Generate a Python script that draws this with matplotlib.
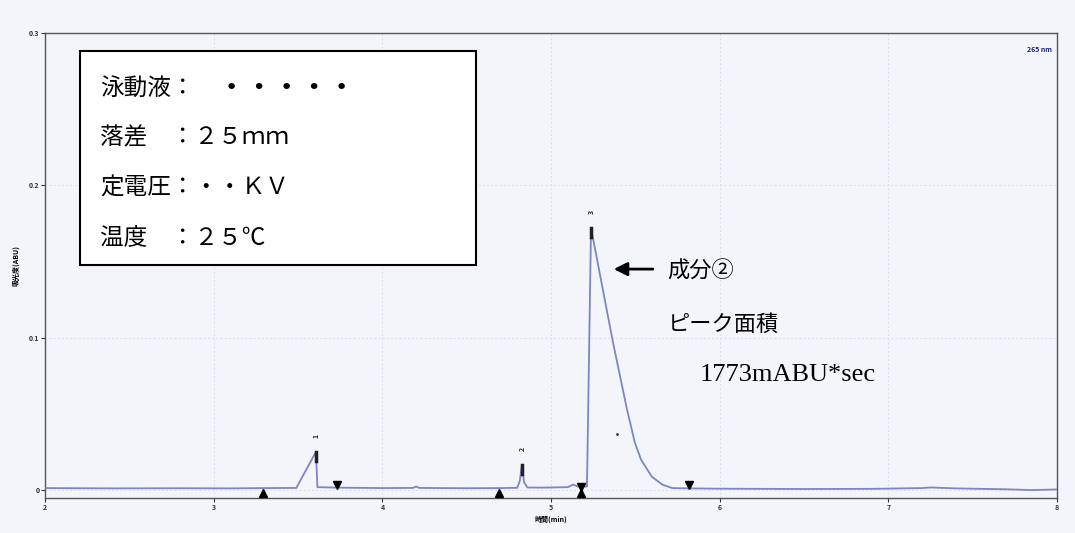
import numpy as np
import matplotlib.pyplot as plt
from matplotlib.patches import Rectangle

plt.rcParams['font.family'] = ['Noto Sans CJK JP', 'DejaVu Sans']

# electropherogram trace (time in min, absorbance in ABU)
time = [2.00, 2.40, 2.80, 3.10, 3.29, 3.49, 3.606, 3.615, 3.73, 4.00, 4.18, 4.20, 4.22,
        4.50, 4.70, 4.80, 4.815, 4.827, 4.84, 4.86, 4.95, 5.10, 5.13, 5.16, 5.213, 5.237,
        5.367, 5.45, 5.497, 5.533, 5.598, 5.663, 5.72, 5.82, 6.00, 6.50, 6.90,
        7.20, 7.25, 7.40, 7.70, 7.85, 8.00]
absorb = [0.0012, 0.0010, 0.0011, 0.0010, 0.0012, 0.0013, 0.025, 0.0018, 0.0015, 0.0012,
          0.0013, 0.0022, 0.0013, 0.0011, 0.0012, 0.0014, 0.006, 0.0165, 0.005, 0.0016,
          0.0015, 0.0018, 0.0035, 0.0022, 0.0022, 0.172, 0.097, 0.053, 0.031, 0.020,
          0.0086, 0.0033, 0.0012, 0.0010, 0.0008, 0.0006, 0.0007, 0.0012, 0.0016, 0.0010,
          0.0004, -0.0001, 0.0003]

# integration start / end marks
start_t = [3.29, 4.69, 5.18]
start_v = [-0.0020, -0.0022, -0.0022]
end_t = [3.73, 5.18, 5.82]
end_v = [0.0030, 0.0020, 0.0030]

# peak numbers and apex positions
peak_ids = ['1', '2', '3']
peak_t = [3.606, 4.827, 5.237]
peak_v = [0.025, 0.0165, 0.172]

cond_labels = ['泳動液：', '落差　：２５ｍｍ', '定電圧：・・ＫＶ', '温度　：２５℃']

bg = '#f4f5fa'
line_color = '#7d86c2'

fig = plt.figure(figsize=(10.75, 5.33), dpi=100, facecolor=bg)
ax = fig.add_axes([0.0419, 0.0657, 0.9414, 0.8723], facecolor=bg)

ax.plot(time, absorb, color=line_color, lw=1.3, zorder=3)

ax.plot(start_t, start_v, '^', color='black', ms=6, zorder=4)
ax.plot(end_t, end_v, 'v', color='black', ms=6, zorder=4)

for pid, t, v in zip(peak_ids, peak_t, peak_v):
    ax.plot([t, t], [v - 0.006, v], color='#222222', lw=2.5, zorder=4)
    ax.text(t, v + 0.009, pid, rotation=90, ha='center', va='bottom',
            fontsize=5, fontweight='bold', color='#222222')

ax.plot([5.39], [0.037], '.', color='#333333', ms=2)

ax.set_xlim(2, 8)
ax.set_ylim(-0.0053, 0.3)
ax.set_xticks(np.arange(2, 9, 1))
ax.set_yticks([0, 0.1, 0.2, 0.3])
ax.set_yticklabels(['0', '0.1', '0.2', '0.3'])
ax.tick_params(labelsize=5, length=3, width=0.8, colors='#333333', pad=1)
for lab in ax.get_xticklabels() + ax.get_yticklabels():
    lab.set_fontweight('bold')
ax.grid(True, color='#d6d8e2', lw=0.6, ls=(0, (2, 3)))
for s in ax.spines.values():
    s.set_color('#555555')
    s.set_linewidth(1.0)

ax.set_xlabel('時間(min)', fontsize=5, fontweight='bold', labelpad=4)
ax.set_ylabel('吸光度(ABU)', fontsize=5, fontweight='bold', labelpad=7)

ax.text(0.995, 0.965, '265 nm', transform=ax.transAxes, ha='right', va='center',
        fontsize=5, fontweight='bold', color='#1a237e')

# conditions box
fig.patches.append(Rectangle((0.0744, 0.5028), 0.3684, 0.4015, transform=fig.transFigure,
                             facecolor='white', edgecolor='black', lw=1.5, zorder=5))
for i, line in enumerate(cond_labels):
    fig.text(0.093, 0.835 - i * 0.094, line, fontsize=17, va='center', ha='left', zorder=6)
fig.text(0.2095, 0.835, '•  •  •  •  •', fontsize=16, va='center', ha='left',
         family='DejaVu Sans', zorder=6)

# peak area note
ax.annotate('', xy=(5.355, 0.145), xytext=(5.62, 0.145),
            arrowprops=dict(arrowstyle='-|>', color='black', lw=2, mutation_scale=20))
ax.text(5.69, 0.1434, '成分②', fontsize=16, va='center', ha='left')
ax.text(5.69, 0.1086, 'ピーク面積', fontsize=16, va='center', ha='left')
ax.text(5.88, 0.0757, '1773mABU*sec', fontsize=19, va='center', ha='left',
        family='Liberation Serif')

fig.savefig('out.png', dpi=100, facecolor=bg)
